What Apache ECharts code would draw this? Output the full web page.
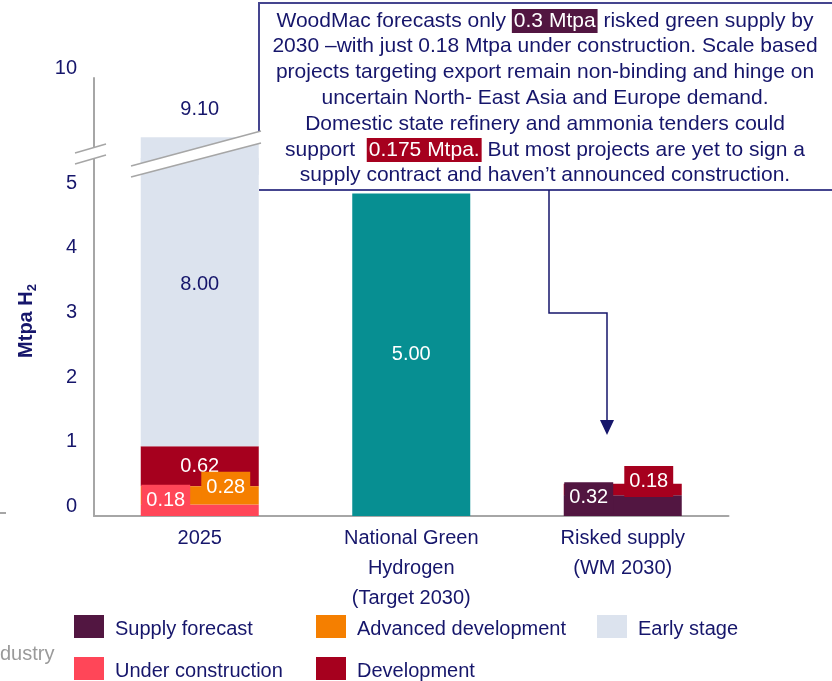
<!DOCTYPE html>
<html>
<head>
<meta charset="utf-8">
<script src="https://cdn.jsdelivr.net/npm/echarts@6/dist/echarts.min.js"></script>
<style>
  html, body { margin: 0; padding: 0; background: #fff; }
  #main { width: 832px; height: 681px; }
</style>
</head>
<body>
<div id="main"></div>
<script>
// data
var categories = ['2025', 'National Green\nHydrogen\n(Target 2030)', 'Risked supply\n(WM 2030)'];
var supplyForecast = ['-', '-', 0.32];
var underConstruction = [0.18, '-', '-'];
var advancedDevelopment = [0.28, '-', '-'];
var development = [0.62, '-', 0.18];
var earlyStage = [8.00, '-', '-'];
var nationalTarget = ['-', 5.00, '-'];
var totalLabels = ['9.10', '', ''];

var navy = '#16166b';
var axisGray = '#a6a6a6';
var font = "'Liberation Sans', Arial, sans-serif";
var colors = {
  'Supply forecast': '#521641',
  'Under construction': '#ff4658',
  'Advanced development': '#f57f00',
  'Development': '#a6001e',
  'Early stage': '#dce3ee',
  'National target': '#078f92'
};

// boxed labels sit off-centre like on the slide
function boxLabel(color, offset) {
  return {
    show: true, position: 'inside', color: '#fff', fontSize: 20, fontFamily: font,
    backgroundColor: color, padding: [6, 5, 5, 5], offset: offset,
    formatter: function (p) { return p.value.toFixed(2); }
  };
}
function plainLabel(color, offset) {
  return {
    show: true, position: 'inside', color: color, fontSize: 20, fontFamily: font, offset: offset || [0, 0],
    formatter: function (p) { return p.value.toFixed(2); }
  };
}

function makeData(values, labels) {
  return values.map(function (v, i) {
    if (labels && labels[i]) return { value: v, label: labels[i] };
    return v;
  });
}

// bottom -> top of the stack
var stackSeries = [
  { name: 'Supply forecast', values: supplyForecast,
    labels: { 2: boxLabel(colors['Supply forecast'], [-34, -8]) } },
  { name: 'Under construction', values: underConstruction, z: 3,
    labels: { 0: boxLabel(colors['Under construction'], [-34, -10]) } },
  { name: 'Advanced development', values: advancedDevelopment, z: 3,
    labels: { 0: boxLabel(colors['Advanced development'], [26, -8]) } },
  { name: 'Development', values: development,
    labels: { 0: plainLabel('#fff'), 2: boxLabel(colors['Development'], [26, -8]) } },
  { name: 'Early stage', values: earlyStage,
    labels: { 0: plainLabel(navy, [0, -18]) } },
  { name: 'National target', values: nationalTarget,
    labels: { 1: plainLabel('#fff') } }
];

var series = [];
stackSeries.forEach(function (s) {
  // lower panel (0 - 5.55)
  series.push({
    name: s.name, type: 'bar', stack: 'low', xAxisIndex: 0, yAxisIndex: 0, z: s.z || 2,
    barWidth: 118, itemStyle: { color: colors[s.name] },
    data: makeData(s.values, s.labels)
  });
});
stackSeries.forEach(function (s) {
  // upper panel (8.5 - 10), same stack so the top reaches the total
  series.push({
    name: s.name, type: 'bar', stack: 'high', xAxisIndex: 1, yAxisIndex: 1,
    barWidth: 118, itemStyle: { color: colors[s.name] },
    label: s.name === 'Early stage' ? {
      show: true, position: 'top', distance: 18, color: navy, fontSize: 20, fontFamily: font,
      formatter: function (p) { return totalLabels[p.dataIndex]; }
    } : { show: false },
    data: s.values
  });
});

function legendItem(left, top, name) {
  return {
    left: left, top: top, padding: 0, icon: 'rect', itemWidth: 30, itemHeight: 23,
    selectedMode: false,
    formatter: '{t|{name}}',
    textStyle: {
      rich: { t: { color: navy, fontSize: 20, fontFamily: font, padding: [6, 0, 0, 6] } }
    },
    data: [name]
  };
}

var chart = echarts.init(document.getElementById('main'));
chart.setOption({
  backgroundColor: '#fff',
  animation: false,
  textStyle: { fontFamily: font },
  grid: [
    { left: 94, top: 158, width: 634.5, height: 358 },
    { left: 94, top: 78, width: 634.5, height: 96.75 }
  ],
  xAxis: [
    { type: 'category', gridIndex: 0, data: categories,
      axisLine: { lineStyle: { color: axisGray, width: 2 } },
      axisTick: { show: false },
      axisLabel: { color: navy, fontSize: 20, lineHeight: 30, margin: 7, fontFamily: font } },
    { type: 'category', gridIndex: 1, data: categories, show: false }
  ],
  yAxis: [
    { type: 'value', gridIndex: 0, min: 0, max: 5.55, interval: 1,
      axisLine: { show: true, lineStyle: { color: axisGray, width: 2 } },
      axisTick: { show: false }, splitLine: { show: false },
      axisLabel: { color: navy, fontSize: 20, margin: 17, lineHeight: 20, verticalAlign: 'bottom', fontFamily: font,
        formatter: function (v) { return Number.isInteger(v) ? String(v) : ''; } } },
    { type: 'value', gridIndex: 1, min: 8.5, max: 10, interval: 0.5,
      axisLine: { show: true, lineStyle: { color: axisGray, width: 2 } },
      axisTick: { show: false }, splitLine: { show: false },
      axisLabel: { color: navy, fontSize: 20, margin: 17, lineHeight: 20, verticalAlign: 'bottom', fontFamily: font,
        formatter: function (v) { return v === 10 ? '10' : ''; } } }
  ],
  legend: [
    legendItem(74, 615, 'Supply forecast'),
    legendItem(74, 657, 'Under construction'),
    legendItem(316, 615, 'Advanced development'),
    legendItem(316, 657, 'Development'),
    legendItem(597, 615, 'Early stage')
  ],
  graphic: [
    // callout box (left edge only above the bar break)
    { type: 'rect', z: 1, shape: { x: 259, y: 3, width: 600, height: 187 },
      style: { fill: '#fff' } },
    { type: 'polyline', z: 1, shape: { points: [[259, 131], [259, 3], [832, 3]] },
      style: { stroke: '#45458f', lineWidth: 2, fill: null } },
    { type: 'line', z: 1, shape: { x1: 259, y1: 190, x2: 832, y2: 190 },
      style: { stroke: '#45458f', lineWidth: 2 } },
    { type: 'text', z: 5, x: 545, y: 8,
      style: {
        text: 'WoodMac forecasts only {p|0.3 Mtpa} risked green supply by\n' +
              '2030 \u2013with just 0.18 Mtpa under construction. Scale based\n' +
              'projects targeting export remain non-binding and hinge on\n' +
              'uncertain North- East Asia and Europe demand.\n' +
              'Domestic state refinery and ammonia tenders could\n' +
              'support  {r|0.175 Mtpa.} But most projects are yet to sign a\n' +
              'supply contract and haven\u2019t announced construction.',
        align: 'center', verticalAlign: 'top', fill: navy,
        font: '21px ' + font, lineHeight: 25.8,
        rich: {
          p: { backgroundColor: '#521641', fill: '#fff', fontSize: 21, lineHeight: 25.8, padding: [2, 2, 1, 2] },
          r: { backgroundColor: '#a6001e', fill: '#fff', fontSize: 21, lineHeight: 25.8, padding: [2, 2, 1, 2] }
        }
      } },
    // elbow arrow
    { type: 'polyline', z: 5, shape: { points: [[549, 190], [549, 313], [607, 313], [607, 422]] },
      style: { stroke: navy, lineWidth: 1.5, fill: null } },
    { type: 'polygon', z: 5, shape: { points: [[600, 420], [614, 420], [607, 435]] },
      style: { fill: navy } },
    // axis break
    { type: 'polygon', z: 20, shape: { points: [[75, 153], [106, 144], [106, 155], [75, 164]] },
      style: { fill: '#fff' } },
    { type: 'line', z: 21, shape: { x1: 75, y1: 153, x2: 106, y2: 144 }, style: { stroke: axisGray, lineWidth: 1.5 } },
    { type: 'line', z: 21, shape: { x1: 75, y1: 164, x2: 106, y2: 155 }, style: { stroke: axisGray, lineWidth: 1.5 } },
    // bar break
    { type: 'polygon', z: 20, shape: { points: [[131, 166], [261, 131], [261, 143], [131, 177]] },
      style: { fill: '#fff' } },
    { type: 'line', z: 21, shape: { x1: 131, y1: 166, x2: 261, y2: 131 }, style: { stroke: axisGray, lineWidth: 1.5 } },
    { type: 'line', z: 21, shape: { x1: 131, y1: 177, x2: 261, y2: 143 }, style: { stroke: axisGray, lineWidth: 1.5 } },
    // y axis title
    { type: 'text', z: 5, x: 26, y: 321, rotation: Math.PI / 2,
      style: {
        text: '{b|Mtpa H}{s|2}', align: 'center', verticalAlign: 'middle',
        rich: {
          b: { fontSize: 20, fontWeight: 'bold', fill: navy, fontFamily: font, lineHeight: 26 },
          s: { fontSize: 13, fontWeight: 'bold', fill: navy, fontFamily: font, lineHeight: 26, verticalAlign: 'bottom' }
        }
      } },
    // leftovers from the slide edge
    { type: 'text', z: 5, x: 0, y: 654,
      style: { text: 'dustry', fill: '#9a9a9a', font: '20px ' + font, verticalAlign: 'middle' } },
    { type: 'line', z: 5, shape: { x1: 0, y1: 513, x2: 6, y2: 513 }, style: { stroke: axisGray, lineWidth: 2 } }
  ],
  series: series
});
</script>
</body>
</html>
